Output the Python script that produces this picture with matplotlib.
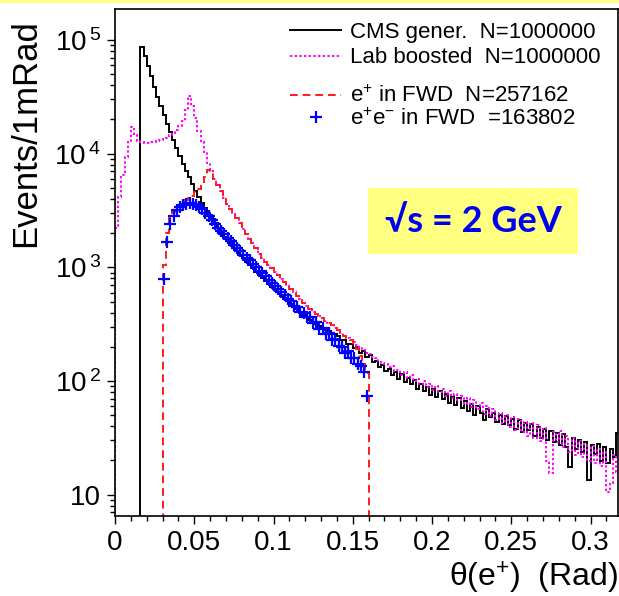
import numpy as np
import matplotlib
matplotlib.use("Agg")
import matplotlib.pyplot as plt
from matplotlib.ticker import LogLocator, FuncFormatter, MultipleLocator, NullFormatter
from matplotlib.lines import Line2D
from matplotlib.patches import Rectangle

plt.rcParams['font.family'] = ['Liberation Sans', 'DejaVu Sans']
plt.rcParams['mathtext.default'] = 'regular'

# 2 mRad bins from 0 to 0.318 rad
theta_edges = np.linspace(0.0, 0.318, 160)

# log10(events / 1 mRad), one value per bin
# CMS gener. : bins from 0.016 to 0.318
cms_log = [
    4.94, 4.86, 4.77, 4.68, 4.59, 4.50, 4.42, 4.34, 4.26, 4.19,
    4.12, 4.05, 3.98, 3.91, 3.85, 3.79, 3.73, 3.67, 3.62, 3.57,
    3.52, 3.47, 3.43, 3.39, 3.35, 3.31, 3.27, 3.24, 3.21, 3.17,
    3.14, 3.11, 3.08, 3.05, 3.02, 2.99, 2.96, 2.93, 2.91, 2.88,
    2.85, 2.83, 2.80, 2.78, 2.75, 2.73, 2.70, 2.68, 2.65, 2.63,
    2.61, 2.58, 2.56, 2.54, 2.52, 2.50, 2.48, 2.47, 2.45, 2.44,
    2.42, 2.41,
    2.40, 2.36, 2.36, 2.33, 2.33, 2.29, 2.30, 2.25, 2.26, 2.21,
    2.23, 2.17, 2.18, 2.12, 2.14, 2.09, 2.11, 2.05, 2.08, 2.02,
    2.06, 1.99, 2.03, 1.97, 2.01, 1.93, 1.97, 1.91, 1.95, 1.88,
    1.93, 1.86, 1.91, 1.84, 1.89, 1.81, 1.86, 1.79, 1.85, 1.76,
    1.82, 1.74, 1.80, 1.70, 1.78, 1.72, 1.66, 1.75, 1.68, 1.72,
    1.64, 1.70, 1.62, 1.69, 1.61, 1.67, 1.58, 1.66, 1.55, 1.63,
    1.57, 1.62, 1.52, 1.60, 1.50, 1.58, 1.48, 1.56, 1.46, 1.54,
    1.44, 1.53, 1.42, 1.24, 1.50, 1.40, 1.48, 1.38, 1.46, 1.13,
    1.44, 1.36, 1.45, 1.30, 1.42, 1.28, 1.40, 1.33, 1.54,
]

# Lab boosted : bins from 0 to 0.318
lab_log = [
    3.35, 3.62, 3.81, 3.97, 4.10, 4.23, 4.16, 4.11, 4.10, 4.09,
    4.09, 4.10, 4.10, 4.11, 4.12, 4.13, 4.14, 4.16, 4.18, 4.21,
    4.24, 4.29, 4.38, 4.51, 4.42, 4.31, 4.20, 4.10, 4.01, 3.92,
    3.85, 3.78, 3.72, 3.67, 3.61, 3.56, 3.51, 3.47, 3.43, 3.39,
    3.34, 3.29, 3.25, 3.21, 3.17, 3.12, 3.08, 3.05, 3.02, 2.99,
    2.96, 2.93, 2.90, 2.87, 2.84, 2.81, 2.78, 2.75, 2.72, 2.69,
    2.66, 2.63, 2.61, 2.59, 2.57, 2.55, 2.53, 2.51, 2.49, 2.47,
    2.45, 2.42, 2.40, 2.38, 2.36, 2.34, 2.32, 2.30, 2.27, 2.25,
    2.24, 2.21, 2.20, 2.17, 2.16, 2.15, 2.12, 2.13, 2.09, 2.10,
    2.05, 2.08, 2.03, 2.05, 2.00, 2.02, 1.97, 2.00, 1.95, 1.97,
    1.92, 1.96, 1.90, 1.93, 1.87, 1.91, 1.85, 1.89, 1.83, 1.87,
    1.80, 1.85, 1.77, 1.83, 1.75, 1.81, 1.71, 1.78, 1.69, 1.75,
    1.66, 1.72, 1.63, 1.70, 1.60, 1.68, 1.57, 1.67, 1.55, 1.64,
    1.52, 1.63, 1.50, 1.61, 1.47, 1.59, 1.30, 1.19, 1.55, 1.46,
    1.56, 1.42, 1.52, 1.38, 1.50, 1.35, 1.47, 1.33, 1.45, 1.30,
    1.43, 1.28, 1.40, 1.25, 1.38, 1.02, 1.10, 1.35, 1.20,
]

# e+ in FWD : bins from 0.030 to 0.160
fwd_log = [
    3.02, 3.30, 3.43, 3.49, 3.53, 3.55, 3.57, 3.59, 3.61, 3.63,
    3.66, 3.69, 3.73, 3.79, 3.86, 3.85, 3.78, 3.72, 3.67, 3.61,
    3.56, 3.51, 3.47, 3.43, 3.39, 3.34, 3.29, 3.25, 3.21, 3.17,
    3.12, 3.08, 3.05, 3.02, 2.99, 2.96, 2.93, 2.90, 2.87, 2.84,
    2.81, 2.78, 2.75, 2.72, 2.69, 2.66, 2.63, 2.61, 2.59, 2.57,
    2.55, 2.53, 2.51, 2.49, 2.47, 2.45, 2.42, 2.40, 2.38, 2.36,
    2.32, 2.28, 2.22, 2.15, 2.07,
]

# e+e- in FWD : bins from 0.030 to 0.160
both_log = [
    2.90, 3.22, 3.38, 3.45, 3.50, 3.53, 3.55, 3.56, 3.57, 3.56,
    3.55, 3.53, 3.51, 3.48, 3.45, 3.42, 3.38, 3.35, 3.32, 3.29,
    3.26, 3.23, 3.20, 3.17, 3.14, 3.11, 3.08, 3.06, 3.03, 3.00,
    2.97, 2.95, 2.92, 2.89, 2.86, 2.84, 2.81, 2.78, 2.76, 2.72,
    2.70, 2.66, 2.65, 2.61, 2.60, 2.56, 2.56, 2.51, 2.52, 2.46,
    2.47, 2.41, 2.42, 2.36, 2.37, 2.31, 2.30, 2.25, 2.26, 2.20,
    2.20, 2.15, 2.13, 2.08, 1.87,
]

labels = ["CMS gener.  N=1000000", "Lab boosted  N=1000000",
          "e$^{+}$ in FWD  N=257162", "e$^{+}$e$^{-}$ in FWD  =163802"]

fig = plt.figure(figsize=(6.19, 5.96), dpi=100)
ax = fig.add_axes([115 / 619, 1 - 516 / 596, 502.5 / 619, 507 / 596])

fwd_edges = theta_edges[15:81]
fwd_centers = 0.5 * (fwd_edges[:-1] + fwd_edges[1:])

ax.stairs(10 ** np.array(cms_log), theta_edges[8:], color='black', lw=1.4, baseline=0)
ax.stairs(10 ** np.array(lab_log), theta_edges, color='#ff00ff', lw=1.4,
          linestyle=(0, (1.2, 1.2)), baseline=0)
ax.stairs(10 ** np.array(fwd_log), fwd_edges, color='#ff1a1a', lw=1.4,
          linestyle=(0, (4, 2.5)), baseline=0)
ax.plot(fwd_centers, 10 ** np.array(both_log), '+', color='#0000ff', ms=8, mew=1.6)

ax.set_yscale('log')
ax.set_xlim(0, 0.317)
ax.set_ylim(6.5, 1.87e5)

def ylab(v, pos):
    e = int(round(np.log10(v)))
    if e == 1:
        return '10'
    return r'$10^{\,%d}$' % e

ax.yaxis.set_major_locator(LogLocator(base=10))
ax.yaxis.set_minor_locator(LogLocator(base=10, subs=np.arange(2, 10)))
ax.yaxis.set_major_formatter(FuncFormatter(ylab))
ax.yaxis.set_minor_formatter(NullFormatter())
ax.xaxis.set_major_locator(MultipleLocator(0.05))
ax.xaxis.set_minor_locator(MultipleLocator(0.01))
ax.xaxis.set_major_formatter(FuncFormatter(lambda v, p: ('%g' % round(v, 3))))
ax.tick_params(which='major', direction='out', length=6, width=1, labelsize=20, pad=4)
ax.tick_params(which='minor', direction='out', length=3.5, width=1)
for s in ax.spines.values():
    s.set_linewidth(1.2)

# legend, two groups like the original
h1 = [Line2D([], [], color='black', lw=1.4),
      Line2D([], [], color='#ff00ff', lw=1.4, linestyle=(0, (1.2, 1.2)))]
h2 = [Line2D([], [], color='#ff1a1a', lw=1.4, linestyle=(0, (4, 2.5))),
      Line2D([], [], color='#0000ff', marker='+', ms=8, mew=1.6, linestyle='none')]
leg1 = fig.legend(h1, labels[:2], loc='upper left', bbox_to_anchor=(290 / 619, 1 - 22 / 596),
                  frameon=False, fontsize=16, handlelength=2.3, handletextpad=0.4,
                  labelspacing=0.2, borderpad=0, borderaxespad=0)
leg2 = fig.legend(h2, labels[2:], loc='upper left', bbox_to_anchor=(290 / 619, 1 - 86 / 596),
                  frameon=False, fontsize=16, handlelength=2.3, handletextpad=0.4,
                  labelspacing=0.05, borderpad=0, borderaxespad=0)

fig.text(473 / 619, 1 - 221 / 596, '√s = 2 GeV', fontsize=26, fontweight='bold',
         color='#0000ee', family=['Lato', 'DejaVu Sans'], ha='center', va='center',
         bbox=dict(boxstyle='square,pad=0.45', fc='#ffff80', ec='none'))

fig.text(26 / 619, 1 - 133 / 596, 'Events/1mRad', rotation=90, ha='center', va='center',
         fontsize=25)
fig.text(618 / 619, 1 - 578 / 596, 'θ(e$^{+}$)  (Rad)', ha='right', va='center', fontsize=23)

fig.patches.append(Rectangle((0, 1 - 3 / 596), 1, 3 / 596, transform=fig.transFigure,
                             fc='#ffff88', ec='none'))

fig.savefig('out.png', dpi=100)
